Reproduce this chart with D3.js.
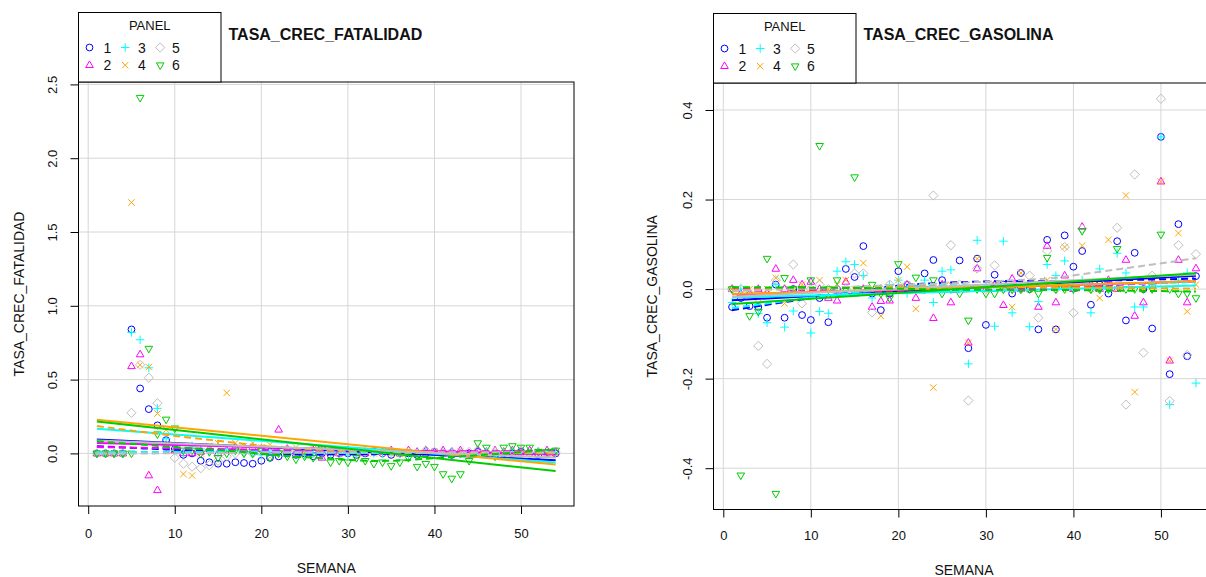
<!DOCTYPE html>
<html><head><meta charset="utf-8">
<script src="https://cdn.jsdelivr.net/npm/d3@7"></script>
<style>body{margin:0;background:#fff} text{font-family:"Liberation Sans",Arial,sans-serif;fill:#111}</style>
</head><body><svg id="c" width="1206" height="577"></svg>
<script>
const weeks = [1,2,3,4,5,6,7,8,9,10,11,12,13,14,15,16,17,18,19,20,21,22,23,24,25,26,27,28,29,30,31,32,33,34,35,36,37,38,39,40,41,42,43,44,45,46,47,48,49,50,51,52,53,54];
const panels = ["1","2","3","4","5","6"];
const panelColors = ["#0000ff","#ff00ff","#00ffff","#ffa500","#bebebe","#00cd00"];
const xTicks = [0,10,20,30,40,50];
const fatTicksY = [0,0.5,1,1.5,2,2.5];
const gasTicksY = [-0.4,-0.2,0,0.2,0.4];

// TASA_CREC_FATALIDAD by PANEL
const fat1 = [0,0,0,0,0.84,0.44,0.30,0.19,0.09,0.03,
 -0.01,0.00,-0.05,-0.06,-0.07,-0.07,-0.06,-0.065,-0.07,-0.05,
 -0.03,-0.02,0.00,-0.01,0.00,-0.02,0.00,-0.01,0.00,0.00,
 -0.01,0.00,0.01,0.00,-0.01,0.00,0.00,-0.01,0.00,0.01,
 0.00,-0.01,0.00,0.00,0.01,0.00,-0.01,0.00,0.00,0.01,
 0.00,-0.01,0.00,0.00];
const fat2 = [0,0,0,0,0.59,0.67,-0.15,-0.25,0.05,0.02,
 0.00,0.00,0.01,0.03,0.00,0.02,0.04,0.03,0.04,0.03,
 0.02,0.16,0.03,0.01,0.00,0.02,-0.03,0.01,0.00,0.02,
 0.01,0.00,0.02,0.01,0.02,0.00,0.02,0.01,0.02,0.01,
 0.02,0.01,0.02,0.00,0.02,0.01,0.02,0.01,0.02,0.01,
 0.02,0.01,0.02,0.01];
const fat3 = [0,0,0,0,0.82,0.77,0.58,0.305,0.10,0.02,
 0.00,0.05,0.03,0.02,0.01,0.03,0.02,0.01,0.00,-0.01,
 0.01,0.02,0.00,0.01,-0.01,0.00,0.01,0.00,0.01,-0.01,
 0.00,0.01,0.00,0.00,0.01,0.00,-0.01,0.00,0.01,0.00,
 0.00,0.01,0.00,-0.01,0.00,0.01,0.00,0.00,0.01,0.00,
 0.00,0.01,0.00,0.00];
const fat4 = [0,0,0,0,1.70,0.60,0.585,0.27,0.16,0.02,
 -0.14,-0.15,0.00,0.05,0.07,0.41,0.07,0.05,0.07,0.04,
 0.06,0.03,0.02,0.04,0.01,0.03,0.02,0.00,0.01,0.02,
 0.00,0.01,0.00,0.01,0.00,0.00,0.01,0.00,0.00,0.01,
 0.00,0.00,0.01,0.00,0.00,0.00,0.01,0.00,0.00,0.00,
 0.00,0.01,0.00,0.00];
const fat5 = [0,0,0,0,0.275,0.60,0.513,0.34,0.05,-0.03,
 -0.07,-0.09,-0.10,-0.08,-0.05,-0.02,0.00,0.01,0.00,0.01,
 0.00,0.01,0.02,0.00,0.01,0.00,0.01,0.02,0.00,0.01,
 0.00,0.01,0.02,0.00,0.01,0.00,0.01,0.00,0.02,0.01,
 0.00,0.01,0.00,0.01,0.02,0.00,0.01,0.00,0.01,0.02,
 0.00,0.01,0.00,0.01];
const fat6 = [0,0,0,0,0,2.41,0.71,0.13,0.23,0.17,
 0.02,0.02,0.00,0.01,-0.03,0.00,0.02,0.00,0.00,0.02,
 -0.03,0.00,-0.02,-0.04,-0.02,-0.03,0.03,-0.06,-0.05,-0.06,
 -0.03,-0.05,-0.07,-0.06,-0.085,-0.06,-0.03,-0.09,-0.07,-0.09,
 -0.14,-0.17,-0.14,-0.05,0.07,0.04,-0.02,0.04,0.05,0.04,
 0.04,0.01,0.01,0.02];

// TASA_CREC_GASOLINA by PANEL
const gas1 = [-0.04,-0.02,-0.038,-0.04,-0.064,0.01,-0.064,0.00,-0.058,-0.069,
 -0.02,-0.074,0.00,0.045,0.027,0.096,-0.01,-0.047,-0.01,0.04,
 0.01,0.00,0.035,0.065,0.02,0.00,0.064,-0.132,0.068,-0.08,
 0.032,0.01,-0.01,0.036,0.00,-0.09,0.11,-0.09,0.12,0.05,
 0.085,-0.035,0.01,-0.01,0.107,-0.07,0.081,0.00,-0.088,0.34,
 -0.19,0.145,-0.15,0.029];
const gas2 = [0,-0.01,-0.01,0.00,-0.01,0.045,0.00,0.02,0.01,0.016,
 0.00,-0.02,-0.026,0.016,-0.01,0.00,-0.04,-0.027,-0.026,0.00,
 0.01,-0.02,0.00,-0.065,0.01,-0.03,0.00,-0.12,0.046,0.00,
 0.01,-0.036,0.023,0.00,0.01,-0.04,0.096,-0.03,0.03,0.00,
 0.139,0.01,0.00,0.02,0.00,0.065,-0.06,-0.03,0.01,0.24,
 -0.16,0.065,-0.03,0.046];
const gas3 = [-0.03,0.00,-0.01,-0.055,-0.075,0.01,-0.085,-0.049,-0.01,-0.098,
 -0.05,-0.054,0.04,0.061,0.055,0.03,-0.02,0.00,0.01,0.02,
 -0.01,0.00,0.02,-0.03,0.04,0.043,0.00,-0.167,0.109,0.01,
 -0.083,0.107,-0.053,0.01,-0.084,-0.028,0.055,0.03,0.063,0.00,
 0.02,-0.053,0.045,0.00,0.08,0.036,-0.04,-0.04,0.01,0.34,
 -0.258,0.02,0.036,-0.21];
const gas4 = [0,-0.01,0.00,-0.02,0.00,0.025,-0.032,0.00,0.01,0.00,
 0.02,0.00,0.01,0.02,0.00,0.058,0.00,-0.06,0.00,0.02,
 0.05,-0.044,0.00,-0.22,0.00,0.01,0.00,-0.12,0.068,0.00,
 0.01,0.00,-0.04,0.036,0.00,0.01,0.02,-0.09,0.094,0.01,
 0.097,0.00,-0.02,0.11,0.00,0.209,-0.23,0.00,0.01,0.24,
 -0.16,0.125,-0.05,0.01];
const gas5 = [0,0.00,-0.01,-0.127,-0.167,0.02,0.00,0.055,-0.032,0.00,
 0.01,0.00,0.00,0.00,0.035,0.035,-0.052,0.00,0.01,0.00,
 0.01,0.00,0.00,0.209,0.00,0.098,0.01,-0.249,0.046,0.00,
 0.053,0.00,0.00,0.00,0.03,-0.064,0.085,0.00,0.094,-0.053,
 0.135,0.00,0.00,0.01,0.137,-0.258,0.256,-0.142,0.03,0.425,
 -0.25,0.098,-0.147,0.078];
const gas6 = [0,-0.416,-0.06,-0.05,0.068,-0.457,0.025,0.00,0.00,0.02,
 0.32,0.00,0.02,0.00,0.25,0.00,0.01,-0.01,-0.02,0.056,
 0.00,0.026,0.00,0.02,-0.01,0.00,-0.01,-0.07,0.00,-0.01,
 -0.01,0.00,0.00,0.00,0.00,-0.01,0.07,0.00,0.00,0.00,
 0.13,0.00,0.00,0.00,0.09,0.00,0.00,0.00,0.00,0.122,
 0.00,-0.01,-0.01,-0.02];

const charts = [
  {title:"TASA_CREC_FATALIDAD", ylab:"TASA_CREC_FATALIDAD", xlab:"SEMANA",
   series:[fat1,fat2,fat3,fat4,fat5,fat6], yTicks:fatTicksY,
   box:{l:78.5,t:82,r:574,b:506}, tickLabY:537.5, xlabY:573, yTickX:56.5, ylabX:23.5},
  {title:"TASA_CREC_GASOLINA", ylab:"TASA_CREC_GASOLINA", xlab:"SEMANA",
   series:[gas1,gas2,gas3,gas4,gas5,gas6], yTicks:gasTicksY,
   box:{l:713.5,t:83,r:1214.5,b:509.5}, tickLabY:540, xlabY:574.5, yTickX:691.5, ylabX:656.5}
];

const symPaths = [
  "M3.4,0A3.4,3.4 0 1,1 -3.4,0A3.4,3.4 0 1,1 3.4,0Z",
  "M0,-4.3L3.8,2.3L-3.8,2.3Z",
  "M-4.3,0H4.3M0,-4.3V4.3",
  "M-3.2,-3.2L3.2,3.2M-3.2,3.2L3.2,-3.2",
  "M0,-4.6L4.6,0L0,4.6L-4.6,0Z",
  "M0,4.3L3.8,-2.3L-3.8,-2.3Z"
];

function expand(ext){ const r = ext[1]-ext[0]; return [ext[0]-0.04*r, ext[1]+0.04*r]; }

function linreg(xs, ys){
  const mx = d3.mean(xs), my = d3.mean(ys);
  let sxy=0, sxx=0;
  xs.forEach((x,i)=>{ sxy += (x-mx)*(ys[i]-my); sxx += (x-mx)*(x-mx); });
  const b = sxy/sxx; return {a: my-b*mx, b};
}

// local-linear loess, tricube weights, bisquare robustness iterations
function loessFit(xs, ys, span, iterations, nEval){
  const n = xs.length, q = Math.floor(n*span);
  let rw = new Array(n).fill(1);
  const fitAt = (x0, wts)=>{
    const d = xs.map(x=>Math.abs(x-x0));
    const sd = d.slice().sort((a,b)=>a-b);
    const h = Math.max(sd[Math.min(q,n)-1], 1e-9);
    let sw=0,sx=0,sy=0,sxx=0,sxy=0;
    for (let i=0;i<n;i++){
      const u = d[i]/h;
      const w = u<1 ? Math.pow(1-u*u*u,3)*wts[i] : 0;
      sw+=w; sx+=w*xs[i]; sy+=w*ys[i]; sxx+=w*xs[i]*xs[i]; sxy+=w*xs[i]*ys[i];
    }
    if (sw < 1e-12) return null;
    const mx=sx/sw, my=sy/sw, vx=sxx/sw-mx*mx;
    const b = vx>1e-12 ? (sxy/sw-mx*my)/vx : 0;
    return my + b*(x0-mx);
  };
  for (let it=1; it<iterations; it++){
    const fits = xs.map(x=>fitAt(x, rw));
    if (fits.some(f=>f===null)) break;
    const res = xs.map((x,i)=>ys[i]-fits[i]);
    const m = d3.median(res.map(Math.abs));
    const s = 6*Math.max(m,1e-4);
    const nw = res.map(r=>{const u=Math.abs(r)/s; return u<1?Math.pow(1-u*u,2):0;});
    rw = nw;
  }
  const lo = d3.min(xs), hi = d3.max(xs);
  return d3.range(nEval).map(i=>{const x = lo+i*(hi-lo)/(nEval-1); const f = fitAt(x, rw); return [x, f];})
    .filter(d=>d[1]!==null);
}

const svg = d3.select("#c");
svg.append("rect").attr("width",1206).attr("height",577).attr("fill","#fff");
const fmt = v => v.toFixed(1);

charts.forEach(ch=>{
  const b = ch.box;
  const allY = ch.series.flat();
  const x = d3.scaleLinear().domain(expand(d3.extent(weeks))).range([b.l,b.r]);
  const y = d3.scaleLinear().domain(expand(d3.extent(allY))).range([b.b,b.t]);
  const g = svg.append("g");

  // grid
  g.append("g").selectAll("line").data(xTicks).join("line")
    .attr("x1",d=>x(d)).attr("x2",d=>x(d)).attr("y1",b.t).attr("y2",b.b)
    .attr("stroke","#d6d6d6").attr("stroke-width",1);
  g.append("g").selectAll("line").data(ch.yTicks).join("line")
    .attr("x1",b.l).attr("x2",b.r).attr("y1",d=>y(d)).attr("y2",d=>y(d))
    .attr("stroke","#d6d6d6").attr("stroke-width",1);

  // axes
  const xa = g.append("g").attr("transform",`translate(0,${b.b})`)
    .call(d3.axisBottom(x).tickValues(xTicks).tickSize(8).tickFormat(d3.format("d")));
  xa.select(".domain").remove();
  xa.selectAll("line").attr("stroke","#000");
  xa.selectAll("text").attr("dy",null)
    .attr("y", ch.tickLabY-b.b).style("font-size","13px").style("font-family","'Liberation Sans',Arial,sans-serif").attr("fill","#111");
  const ya = g.append("g").attr("transform",`translate(${b.l},0)`)
    .call(d3.axisLeft(y).tickValues(ch.yTicks).tickSize(8).tickFormat(fmt));
  ya.select(".domain").remove();
  ya.selectAll("line").attr("stroke","#000");
  ya.selectAll("text").attr("dy",null)
    .attr("x",0).attr("y",0)
    .attr("transform",`translate(${ch.yTickX-b.l},0) rotate(-90)`)
    .attr("text-anchor","middle")
    .style("font-size","13px").style("font-family","'Liberation Sans',Arial,sans-serif").attr("fill","#111");

  // points
  const clipId = "clip"+ch.title;
  svg.append("clipPath").attr("id",clipId).append("rect")
    .attr("x",b.l).attr("y",b.t).attr("width",b.r-b.l).attr("height",b.b-b.t);
  const pg = g.append("g").attr("clip-path",`url(#${clipId})`);
  ch.series.forEach((vals,i)=>{
    pg.append("g").selectAll("path").data(vals.map((v,k)=>[weeks[k],v])).join("path")
      .attr("d",symPaths[i]).attr("transform",d=>`translate(${x(d[0])},${y(d[1])})`)
      .attr("fill","none").attr("stroke",panelColors[i]).attr("stroke-width",1);
  });
  // lines: least-squares (solid) and robust loess smooth (dashed)
  const line = d3.line().x(d=>x(d[0])).y(d=>y(d[1]));
  ch.series.forEach((vals,i)=>{
    const r = linreg(weeks, vals);
    const ext = d3.extent(weeks);
    pg.append("path").attr("d", line(ext.map(w=>[w, r.a+r.b*w])))
      .attr("fill","none").attr("stroke",panelColors[i]).attr("stroke-width",2);
    pg.append("path").attr("d", line(loessFit(weeks, vals, 2/3, 4, 50)))
      .attr("fill","none").attr("stroke",panelColors[i]).attr("stroke-width",2).attr("stroke-dasharray","7,4");
  });

  // box
  g.append("rect").attr("x",b.l).attr("y",b.t).attr("width",b.r-b.l).attr("height",b.b-b.t)
    .attr("fill","none").attr("stroke","#000").attr("stroke-width",1);

  // axis titles
  g.append("text").attr("x",(b.l+b.r)/2).attr("y",ch.xlabY)
    .attr("text-anchor","middle").style("font-size","14px").text(ch.xlab);
  g.append("text").attr("transform",`translate(${ch.ylabX},${(b.t+b.b)/2}) rotate(-90)`)
    .attr("text-anchor","middle").style("font-size","14px").text(ch.ylab);

  // legend
  const LW = 142.5, LH = 69.5;
  const lg = g.append("g").attr("transform",`translate(${b.l},${b.t-LH})`);
  lg.append("rect").attr("width",LW).attr("height",LH).attr("fill","#fff").attr("stroke","#000").attr("stroke-width",1);
  lg.append("text").attr("x",LW/2).attr("y",17).attr("text-anchor","middle").style("font-size","13px").text("PANEL");
  const symX = [11,46.7,81.7], labX = [29,63.4,97.4], rowY = [35,52.7];
  panels.forEach((p,i)=>{
    const c = Math.floor(i/2), rr = i%2;
    lg.append("path").attr("d",symPaths[i]).attr("transform",`translate(${symX[c]},${rowY[rr]})`)
      .attr("fill","none").attr("stroke",panelColors[i]).attr("stroke-width",1);
    lg.append("text").attr("x",labX[c]).attr("y",rowY[rr]+5).attr("text-anchor","middle")
      .style("font-size","14px").text(p);
  });
  // title
  g.append("text").attr("x",b.l+150).attr("y",39.5).style("font-size","16px").style("font-weight","bold").text(ch.title);
});
</script></body></html>
